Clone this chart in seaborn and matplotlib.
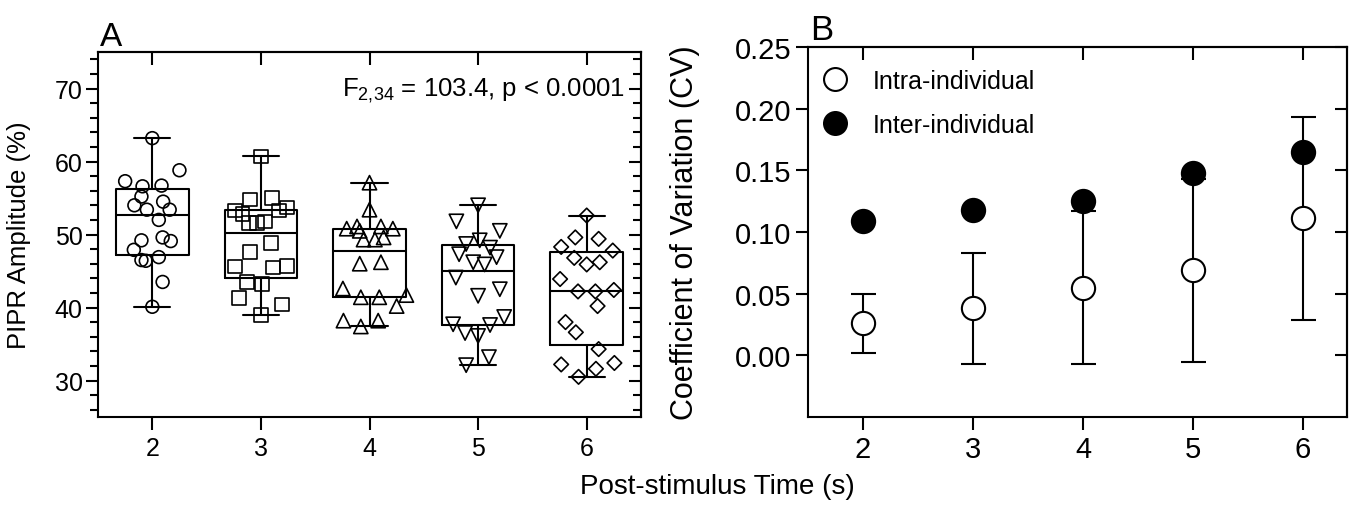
import numpy as np
import pandas as pd
import matplotlib
matplotlib.use("Agg")
import matplotlib.pyplot as plt
import seaborn as sns
from matplotlib.lines import Line2D
from matplotlib.ticker import MultipleLocator

# ---------------- data ----------------
times = [2, 3, 4, 5, 6]

# Panel A: PIPR amplitude (%) per subject
pipr_2s = [63.2, 58.8, 57.3, 56.6, 56.7, 55.2, 54.5, 54.0, 53.4, 53.4,
           52.0, 49.2, 49.6, 49.1, 47.9, 46.5, 46.4, 46.9, 43.5, 40.1]
pipr_3s = [60.7, 54.8, 55.0, 53.3, 52.8, 53.3, 53.7, 51.6, 51.6, 51.8,
           48.8, 47.6, 45.6, 45.5, 45.7, 43.5, 43.2, 41.3, 40.4, 39.0]
pipr_4s = [57.1, 53.4, 50.8, 51.1, 50.5, 51.1, 50.8, 49.3, 49.3, 49.6,
           46.0, 46.2, 42.6, 41.4, 41.4, 41.7, 40.2, 38.2, 37.4, 38.2]
pipr_5s = [54.0, 51.8, 50.5, 48.7, 49.2, 48.2, 47.3, 46.2, 45.9, 46.9,
           44.1, 41.6, 42.5, 37.7, 36.5, 36.1, 37.6, 38.7, 32.1, 33.2]
pipr_6s = [52.6, 49.6, 49.4, 48.3, 47.8, 46.8, 45.9, 46.2, 43.9, 42.2,
           42.2, 42.4, 40.2, 38.0, 36.6, 34.3, 32.2, 32.4, 31.6, 30.5]

# horizontal scatter offsets of the points (as seen in the picture)
jit_2s = [0.0, 0.25, -0.25, -0.09, 0.085, -0.10, 0.10, -0.165, -0.05, 0.16,
          0.06, -0.10, 0.095, 0.17, -0.17, -0.10, -0.06, 0.06, 0.095, 0.0]
jit_3s = [0.0, -0.10, 0.10, -0.24, -0.17, 0.165, 0.24, -0.11, -0.035, 0.04,
          0.095, -0.10, -0.24, 0.11, 0.24, -0.13, 0.01, -0.20, 0.195, 0.0]
jit_4s = [0.0, 0.0, -0.21, -0.115, -0.09, 0.105, 0.215, -0.055, 0.05, 0.13,
          -0.09, 0.105, -0.245, -0.08, 0.09, 0.34, 0.25, -0.24, -0.08, 0.08]
jit_5s = [0.0, -0.2, 0.2, -0.11, 0.015, 0.11, -0.175, -0.045, 0.06, 0.17,
          -0.205, 0.0, 0.2, -0.23, -0.12, 0.0, 0.11, 0.24, -0.11, 0.10]
jit_6s = [0.0, -0.105, 0.11, -0.235, 0.24, -0.115, 0.0, 0.12, -0.245, -0.08,
          0.08, 0.25, 0.10, -0.195, -0.10, 0.11, -0.235, 0.255, 0.085, -0.075]

# Panel B: coefficient of variation
cv_intra = [0.026, 0.038, 0.055, 0.069, 0.111]
cv_intra_sd = [0.024, 0.045, 0.062, 0.074, 0.082]
cv_inter = [0.109, 0.118, 0.125, 0.148, 0.165]

legend_labels = ["Intra-individual", "Inter-individual"]
stat_text = r"F$_{2{,}34}$ = 103.4, p < 0.0001"

# ---------------- style ----------------
sns.set_theme(style="ticks")
plt.rcParams["font.family"] = ["Liberation Sans", "DejaVu Sans"]
plt.rcParams["mathtext.default"] = "regular"
plt.rcParams["axes.linewidth"] = 1.5
for key in ("text.color", "axes.labelcolor", "xtick.color", "ytick.color",
            "axes.edgecolor"):
    plt.rcParams[key] = "black"

W, H = 1362, 506
fig = plt.figure(figsize=(W / 100, H / 100), dpi=100)
fig.patch.set_facecolor("white")

axA = fig.add_axes([98 / W, 88 / H, 543 / W, 365 / H])
axB = fig.add_axes([808 / W, 88 / H, 539 / W, 370 / H])

# ---------------- Panel A ----------------
groups = [pipr_2s, pipr_3s, pipr_4s, pipr_5s, pipr_6s]
jits = [jit_2s, jit_3s, jit_4s, jit_5s, jit_6s]
markers = ["o", "s", "^", "v", "D"]
msizes = [85, 95, 105, 105, 55]

stats = []
for vals in groups:
    q1, med, q3 = np.percentile(vals, [25, 50, 75], method="weibull")
    stats.append(dict(med=med, q1=q1, q3=q3, whislo=min(vals),
                      whishi=max(vals), fliers=[]))
lp = dict(color="black", linewidth=1.5)
axA.bxp(stats, positions=times, widths=0.67, showfliers=False,
        boxprops=lp, medianprops=lp, whiskerprops=lp, capprops=lp,
        manage_ticks=False)

for t, vals, jit, m, s in zip(times, groups, jits, markers, msizes):
    df = pd.DataFrame({"x": np.array(jit) + t, "y": vals})
    sns.scatterplot(data=df, x="x", y="y", marker=m, s=s, ax=axA,
                    facecolor="none", edgecolor="black", linewidth=1.2,
                    legend=False, zorder=3)

axA.set_xlim(1.5, 6.5)
axA.set_ylim(25, 75)
axA.set_xticks(times)
axA.set_yticks([30, 40, 50, 60, 70])
axA.yaxis.set_minor_locator(MultipleLocator(2))
axA.tick_params(axis="x", direction="out", length=9, width=1.5,
                labelsize=18, pad=5)
axA.tick_params(axis="y", which="major", direction="out", length=9,
                width=1.5, labelsize=18, pad=2)
axA.tick_params(axis="y", which="minor", direction="out", length=6,
                width=1.5)
axA.set_xlabel("")
axA.set_ylabel("PIPR Amplitude (%)", fontsize=18.5)
axA.yaxis.set_label_coords(-0.123, 0.5)

secAx = axA.secondary_xaxis("top")
secAx.set_xticks(times)
secAx.tick_params(direction="in", length=9, width=1.5, labeltop=False)
secAy = axA.secondary_yaxis("right")
secAy.set_yticks([30, 40, 50, 60, 70])
secAy.yaxis.set_minor_locator(MultipleLocator(2))
secAy.tick_params(which="major", direction="in", length=9, width=1.5,
                  labelright=False)
secAy.tick_params(which="minor", direction="in", length=6, width=1.5)

axA.text(0.9705, 0.882, stat_text, transform=axA.transAxes, ha="right",
         va="baseline", fontsize=18.5)

# ---------------- Panel B ----------------
axB.errorbar(times, cv_intra, yerr=cv_intra_sd, fmt="none", ecolor="black",
             elinewidth=1.5, capsize=9, capthick=1.5, zorder=2)
sns.scatterplot(x=times, y=cv_inter, marker="o", s=280, color="black",
                edgecolor="black", linewidth=1.5, ax=axB, zorder=3,
                legend=False)
sns.scatterplot(x=times, y=cv_intra, marker="o", s=280, facecolor="white",
                edgecolor="black", linewidth=1.5, ax=axB, zorder=4,
                legend=False)

axB.set_xlim(1.5, 6.4)
axB.set_ylim(-0.05, 0.25)
axB.set_xticks(times)
axB.set_yticks([0.00, 0.05, 0.10, 0.15, 0.20, 0.25])
axB.set_yticklabels(["0.00", "0.05", "0.10", "0.15", "0.20", "0.25"])
axB.tick_params(axis="x", direction="out", length=9, width=1.5,
                labelsize=21, pad=4)
axB.tick_params(axis="y", direction="out", length=9, width=1.5,
                labelsize=21, pad=3)
axB.set_ylabel("Coefficient of Variation (CV)", fontsize=22)
axB.yaxis.set_label_coords(-0.2, 0.5)

secBx = axB.secondary_xaxis("top")
secBx.set_xticks(times)
secBx.tick_params(direction="in", length=9, width=1.5, labeltop=False)
secBy = axB.secondary_yaxis("right")
secBy.set_yticks([0.00, 0.05, 0.10, 0.15, 0.20, 0.25])
secBy.tick_params(direction="in", length=9, width=1.5, labelright=False)

handles = [
    Line2D([], [], ls="", marker="o", markersize=16.5, mfc="white",
           mec="black", mew=1.5),
    Line2D([], [], ls="", marker="o", markersize=16.5, mfc="black",
           mec="black", mew=1.5),
]
axB.legend(handles, legend_labels, loc="upper left",
           bbox_to_anchor=(0.004, 0.968), borderaxespad=0, borderpad=0.4,
           frameon=False, fontsize=18, handlelength=1.2,
           handletextpad=0.92, labelspacing=0.8)

# ---------------- shared texts ----------------
fig.text(717 / W, 19 / H, "Post-stimulus Time (s)", ha="center",
         va="center", fontsize=20)
fig.text(100 / W, (H - 46) / H, "A", ha="left", va="baseline", fontsize=24)
fig.text(810 / W, (H - 40) / H, "B", ha="left", va="baseline", fontsize=25)

for ax in (axA, axB):
    for sp in ax.spines.values():
        sp.set_linewidth(1.5)
        sp.set_color("black")
    ax.set_facecolor("white")

fig.savefig("out.png", dpi=100, facecolor="white")
